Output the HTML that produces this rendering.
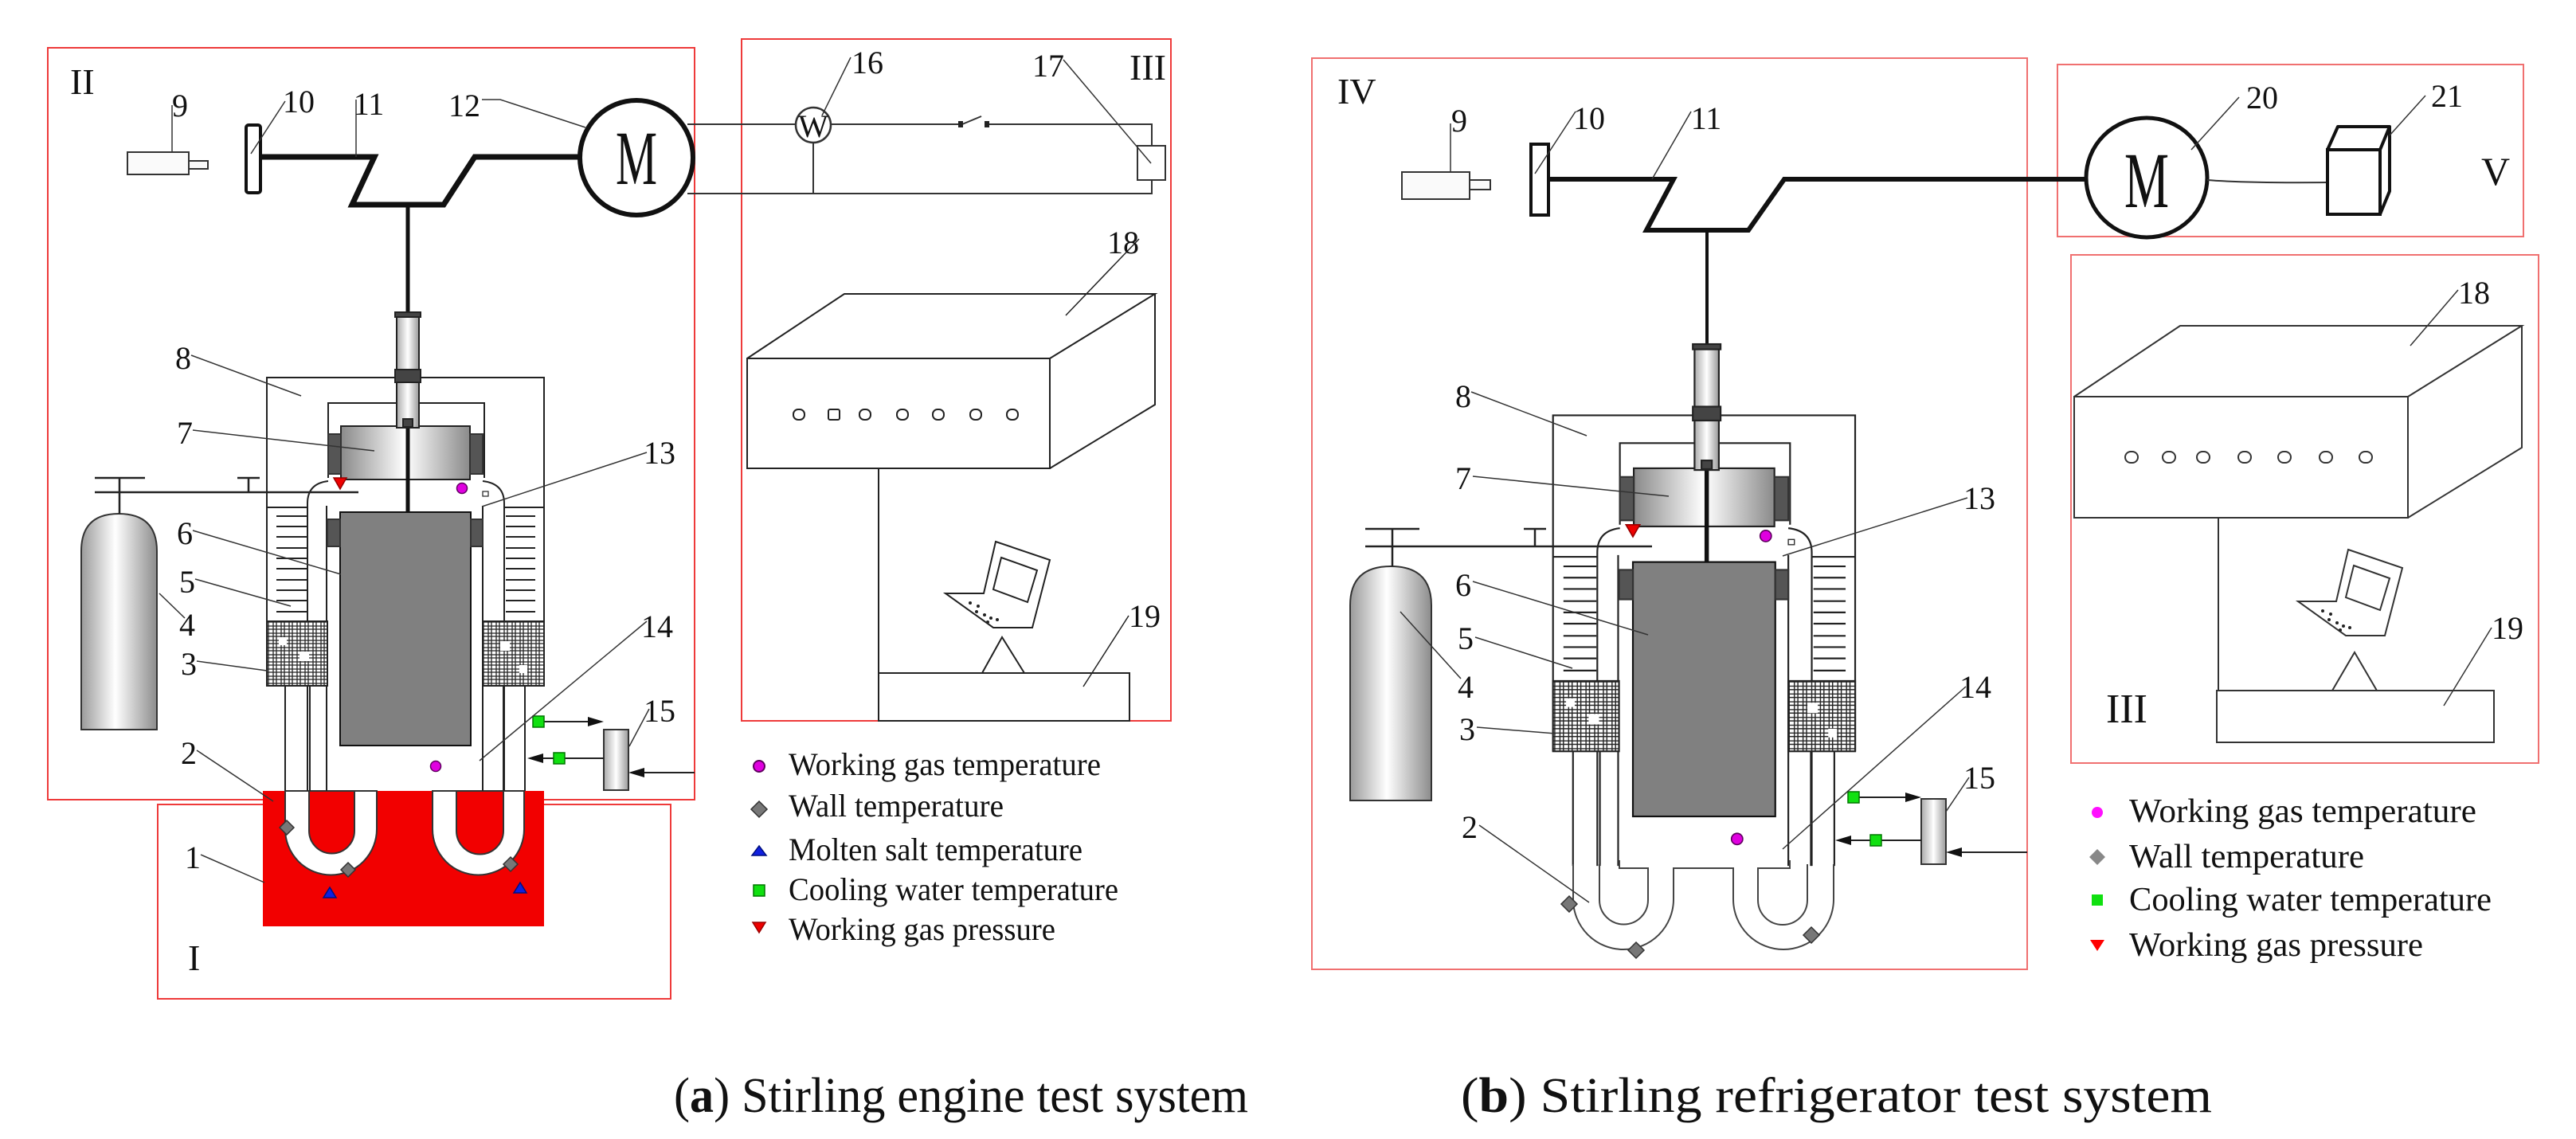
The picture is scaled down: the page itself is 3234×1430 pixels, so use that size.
<!DOCTYPE html>
<html><head><meta charset="utf-8"><style>
html,body{margin:0;padding:0;background:#fff}
svg{display:block;font-family:"Liberation Serif","DejaVu Serif",serif}
text{font-family:"Liberation Serif","DejaVu Serif",serif;fill:#111}
</style></head><body>
<svg width="3234" height="1430" viewBox="0 0 3234 1430" xmlns="http://www.w3.org/2000/svg" font-family="Liberation Serif, serif">
<defs>
<linearGradient id="pg" x1="0" x2="1" y1="0" y2="0">
<stop offset="0" stop-color="#8a8a8a"/><stop offset="0.5" stop-color="#ffffff"/><stop offset="1" stop-color="#8a8a8a"/>
</linearGradient>
<linearGradient id="tg" x1="0" x2="1" y1="0" y2="0">
<stop offset="0" stop-color="#9a9a9a"/><stop offset="0.45" stop-color="#ffffff"/><stop offset="1" stop-color="#8c8c8c"/>
</linearGradient>
<linearGradient id="cg" x1="0" x2="1" y1="0" y2="0">
<stop offset="0" stop-color="#aaa"/><stop offset="0.5" stop-color="#fff"/><stop offset="1" stop-color="#999"/>
</linearGradient>
<pattern id="hatch" width="10" height="9" patternUnits="userSpaceOnUse">
<rect width="10" height="9" fill="#fff"/>
<path d="M3,0V9M7,0V9M0,3H10M0,7H10" stroke="#222" stroke-width="1.3"/>
</pattern>
<g id="eng" fill="none" stroke="#222" stroke-width="2">
  <path d="M335,861 V474 H683 V861"/>
  <path d="M412,600 V506 H608 V600"/>
  <path d="M335,637 H386 M633,637 H683"/>
  <path d="M386,993 V632 Q386,607 412,604"/>
  <path d="M633,993 V632 Q633,607 606,604"/>
  <path d="M410,635 V993 M606,635 V993"/>
  <path d="M347,648H385M347,661H385M347,674H385M347,688H385M347,701H385M347,714H385M347,728H385M347,741H385M347,754H385M347,768H385"/>
  <path d="M635,648H672M635,661H672M635,674H672M635,688H672M635,701H672M635,714H672M635,728H672M635,741H672M635,754H672M635,768H672"/>
  <rect x="335" y="780" width="76" height="81" fill="url(#hatch)"/>
  <rect x="606" y="780" width="77" height="81" fill="url(#hatch)"/>
  <rect x="350" y="800" width="10" height="10" fill="#fff" stroke="none"/>
  <rect x="376" y="818" width="12" height="12" fill="#fff" stroke="none"/>
  <rect x="628" y="805" width="12" height="12" fill="#fff" stroke="none"/>
  <rect x="652" y="835" width="10" height="10" fill="#fff" stroke="none"/>
  <path d="M358,861V993M389,861V993M632,861V993M659,861V993"/>
  <rect x="428" y="535" width="162" height="67" fill="url(#pg)"/>
  <rect x="412" y="545" width="16" height="50" fill="#555" stroke="#333"/>
  <rect x="590" y="545" width="16" height="50" fill="#555" stroke="#333"/>
  <rect x="427" y="643" width="164" height="293" fill="#808080" stroke="#111"/>
  <rect x="411" y="652" width="16" height="34" fill="#555" stroke="#333"/>
  <rect x="591" y="652" width="15" height="34" fill="#555" stroke="#333"/>
  <path d="M512,537V643" stroke="#111" stroke-width="5"/>
  <rect x="498" y="394" width="28" height="143" fill="url(#cg)"/>
  <rect x="496" y="464" width="32" height="16" fill="#444" stroke="#222"/>
  <rect x="496" y="392" width="32" height="6" fill="#444" stroke="#222"/>
  <rect x="506" y="526" width="12" height="10" fill="#444" stroke="#222"/>
  <path d="M419,600 H435 L427,614 Z" fill="#e00" stroke="#900" stroke-width="1.5"/>
  <circle cx="580" cy="613" r="6.5" fill="#e000e0" stroke="#600060" stroke-width="1.5"/>
  <rect x="606" y="617" width="7" height="6" fill="#fff" stroke="#222" stroke-width="1.2"/>
  <circle cx="547" cy="962" r="6.5" fill="#e000e0" stroke="#600060" stroke-width="1.5"/>
</g>
</defs>

<g fill="none" stroke="#ee3a3a" stroke-width="2">
<rect x="60" y="60" width="812" height="944"/>
<rect x="931" y="49" width="539" height="856"/>
<rect x="198" y="1010" width="644" height="244"/>
</g>
<text x="88" y="118" font-size="46">II</text>
<text x="1418" y="100" font-size="46">III</text>
<text x="236" y="1218" font-size="46">I</text>

<g fill="#fafafa" stroke="#333" stroke-width="2">
<rect x="160" y="191" width="77" height="28"/>
<rect x="237" y="202" width="24" height="10"/>
</g>
<path d="M216,132V191" stroke="#333" stroke-width="1.5"/>
<text x="226" y="146" font-size="40" text-anchor="middle">9</text>
<rect x="309" y="157" width="18" height="85" rx="3" fill="#fff" stroke="#111" stroke-width="4"/>
<path d="M358,127 L315,193" stroke="#333" stroke-width="1.5"/>
<text x="375" y="141" font-size="40" text-anchor="middle">10</text>
<path d="M327,197 H470 L442,257 H557 L596,197 H729" fill="none" stroke="#111" stroke-width="7"/>
<path d="M512,257 V394" stroke="#111" stroke-width="5"/>
<path d="M447,125 V197" stroke="#333" stroke-width="1.5"/>
<text x="463" y="144" font-size="40" text-anchor="middle">11</text>
<path d="M605,125 H628 L735,160" fill="none" stroke="#333" stroke-width="1.5"/>
<text x="583" y="146" font-size="40" text-anchor="middle">12</text>
<ellipse cx="799" cy="198" rx="71" ry="72" fill="#fff" stroke="#111" stroke-width="6"/>
<text x="799" y="231" font-size="96" text-anchor="middle" textLength="52" lengthAdjust="spacingAndGlyphs">M</text>
<g fill="none" stroke="#333" stroke-width="2">
<path d="M863,156 H1205 M1239,156 H1446 V183 M1446,226 V243 H863"/>
<path d="M1021,172 V243"/>
<path d="M1208,156 L1232,146"/>
<rect x="1428" y="183" width="35" height="43"/>
</g>
<rect x="1203" y="152" width="6" height="8" fill="#222"/>
<rect x="1236" y="152" width="6" height="8" fill="#222"/>
<circle cx="1021" cy="157" r="22" fill="#fff" stroke="#333" stroke-width="2.5"/>
<text x="1021" y="172" font-size="40" text-anchor="middle">W</text>
<path d="M1068,72 L1032,145" stroke="#333" stroke-width="1.5"/>
<text x="1089" y="92" font-size="40" text-anchor="middle">16</text>
<path d="M1335,75 L1445,205" stroke="#333" stroke-width="1.5"/>
<text x="1316" y="96" font-size="40" text-anchor="middle">17</text>
<g fill="none" stroke="#222" stroke-width="2">
<path d="M938,450 L1060,369 H1450 L1318,450 M1450,369 V508 L1318,588"/>
<rect x="938" y="450" width="380" height="138"/>
<path d="M1103,588 V845"/>
<rect x="1103" y="845" width="315" height="60"/>
<path d="M1233,845 L1258,800 L1286,845"/>
<path d="M1250,680 L1318,703 L1296,788 H1247 L1187,745 H1235 Z M1235,745 L1250,680"/>
<path d="M1257,700 L1302,716 L1290,756 L1247,740 Z"/>
<path d="M1430,300 L1338,396 M1417,773 L1360,862" stroke-width="1.5"/>
</g>
<g fill="#fff" stroke="#222" stroke-width="2">
<rect x="996" y="514" width="14" height="13" rx="6"/>
<rect x="1040" y="514" width="14" height="13" rx="2"/>
<rect x="1079" y="514" width="14" height="13" rx="6"/>
<rect x="1126" y="514" width="14" height="13" rx="6"/>
<rect x="1171" y="514" width="14" height="13" rx="6"/>
<rect x="1218" y="514" width="14" height="13" rx="6"/>
<rect x="1264" y="514" width="14" height="13" rx="6"/>
</g>
<g fill="#222"><circle cx="1218" cy="757" r="2"/><circle cx="1228" cy="761" r="2"/><circle cx="1226" cy="768" r="2"/><circle cx="1236" cy="772" r="2"/><circle cx="1244" cy="776" r="2"/><circle cx="1240" cy="781" r="2"/><circle cx="1252" cy="778" r="2"/></g>
<text x="1410" y="318" font-size="40" text-anchor="middle">18</text>
<text x="1437" y="787" font-size="40" text-anchor="middle">19</text>

<path d="M102,916 V692 Q102,645 149,645 Q197,645 197,692 V916 Z" fill="url(#tg)" stroke="#333" stroke-width="2"/>
<g stroke="#222" stroke-width="2.5" fill="none">
<path d="M119,600 H182 M150,600 V645"/>
<path d="M119,618 H450"/>
<path d="M298,600 H326 M312,600 V618"/>
</g>
<rect x="330" y="993" width="353" height="170" fill="#f20000"/>
<path d="M358,993 V1041 A57.5,57.5 0 0 0 473,1041 V993 Z" fill="#fff" stroke="#333" stroke-width="2"/>
<path d="M388,993 V1043 A28.5,28.5 0 0 0 445,1043 V993 Z" fill="#f20000" stroke="#333" stroke-width="2"/>
<path d="M543,993 V1041 A57.5,57.5 0 0 0 658,1041 V993 Z" fill="#fff" stroke="#333" stroke-width="2"/>
<path d="M573,993 V1043 A29.5,29.5 0 0 0 632,1043 V993 Z" fill="#f20000" stroke="#333" stroke-width="2"/>
<use href="#eng"/>
<g fill="#777" stroke="#333" stroke-width="1.5">
<path d="M360,1030 l9,9 -9,9 -9,-9 Z"/>
<path d="M437,1083 l9,9 -9,9 -9,-9 Z"/>
<path d="M641,1076 l9,9 -9,9 -9,-9 Z"/>
</g>
<g fill="#1020e0" stroke="#001080" stroke-width="1.5">
<path d="M414,1114 l8,13 h-16 Z"/>
<path d="M653,1108 l8,13 h-16 Z"/>
</g>
<rect x="758" y="916" width="31" height="76" fill="url(#cg)" stroke="#333" stroke-width="2"/>
<g stroke="#222" stroke-width="2" fill="none">
<path d="M676,906 H740 M758,952 H680 M872,970 H806"/>
</g>
<path d="M758,906 l-20,-6 v12 Z M662,952 l20,-6 v12 Z M789,970 l20,-6 v12 Z" fill="#111"/>
<rect x="669" y="899" width="14" height="14" fill="#10e010" stroke="#070" stroke-width="1.5"/>
<rect x="695" y="945" width="14" height="14" fill="#10e010" stroke="#070" stroke-width="1.5"/>
<g stroke="#333" stroke-width="1.5" fill="none">
<path d="M240,446 L378,497"/>
<path d="M242,540 L470,566"/>
<path d="M812,568 L605,636"/>
<path d="M242,666 L428,721"/>
<path d="M245,727 L365,761"/>
<path d="M232,776 L200,745"/>
<path d="M247,830 L335,842"/>
<path d="M812,780 L602,955"/>
<path d="M815,890 L790,937"/>
<path d="M247,942 L343,1006"/>
<path d="M252,1073 L332,1108"/>
</g>
<g font-size="40" text-anchor="middle">
<text x="230" y="463">8</text>
<text x="232" y="557">7</text>
<text x="828" y="582">13</text>
<text x="232" y="683">6</text>
<text x="235" y="744">5</text>
<text x="235" y="798">4</text>
<text x="237" y="847">3</text>
<text x="825" y="800">14</text>
<text x="828" y="906">15</text>
<text x="237" y="959">2</text>
<text x="242" y="1090">1</text>
</g>
<circle cx="953" cy="962" r="7" fill="#e000e0" stroke="#600060" stroke-width="2"/>
<path d="M953,1006 l10,10 -10,10 -10,-10 Z" fill="#777" stroke="#333" stroke-width="1.5"/>
<path d="M953,1062 l9,12 h-18 Z" fill="#1020e0" stroke="#001080" stroke-width="1.5"/>
<rect x="946" y="1111" width="14" height="14" fill="#10e010" stroke="#070" stroke-width="1.5"/>
<path d="M945,1158 h16 l-8,13 Z" fill="#e00" stroke="#900" stroke-width="1.5"/>
<g font-size="40">
<text x="990" y="973" textLength="392" lengthAdjust="spacingAndGlyphs">Working gas temperature</text>
<text x="990" y="1025" textLength="270" lengthAdjust="spacingAndGlyphs">Wall temperature</text>
<text x="990" y="1080" textLength="369" lengthAdjust="spacingAndGlyphs">Molten salt temperature</text>
<text x="990" y="1130" textLength="414" lengthAdjust="spacingAndGlyphs">Cooling water temperature</text>
<text x="990" y="1180" textLength="335" lengthAdjust="spacingAndGlyphs">Working gas pressure</text>
</g>

<g fill="none" stroke="#f07070" stroke-width="2">
<rect x="1647" y="73" width="898" height="1144"/>
<rect x="2583" y="81" width="585" height="216"/>
<rect x="2600" y="320" width="587" height="638"/>
</g>
<text x="1679" y="130" font-size="46">IV</text>
<text x="3133" y="232" font-size="50" text-anchor="middle">V</text>
<text x="2670" y="907" font-size="52" text-anchor="middle">III</text>

<g fill="#fafafa" stroke="#333" stroke-width="2">
<rect x="1760" y="216" width="85" height="34"/>
<rect x="1845" y="226" width="26" height="12"/>
</g>
<path d="M1821,155V216" stroke="#333" stroke-width="1.5"/>
<text x="1832" y="165" font-size="40" text-anchor="middle">9</text>
<rect x="1922" y="181" width="22" height="89" fill="#fff" stroke="#111" stroke-width="4"/>
<path d="M1978,140 L1927,218" stroke="#333" stroke-width="1.5"/>
<text x="1995" y="162" font-size="40" text-anchor="middle">10</text>
<path d="M1944,225 H2101 L2067,289 H2195 L2240,225 H2619" fill="none" stroke="#111" stroke-width="6"/>
<path d="M2143,289 V436" stroke="#111" stroke-width="4"/>
<path d="M2123,140 L2074,225" stroke="#333" stroke-width="1.5"/>
<text x="2142" y="162" font-size="40" text-anchor="middle">11</text>
<ellipse cx="2695" cy="223" rx="76" ry="75" fill="#fff" stroke="#111" stroke-width="5"/>
<text x="2695" y="260" font-size="100" text-anchor="middle" textLength="56" lengthAdjust="spacingAndGlyphs">M</text>
<path d="M2771,226 Q2820,230 2922,229" fill="none" stroke="#333" stroke-width="2"/>
<path d="M2922,188 L2935,159 H3000 L2988,188 Z M3000,159 V240 L2988,269" fill="#fff" stroke="#111" stroke-width="4" stroke-linejoin="round"/>
<rect x="2922" y="188" width="66" height="81" fill="#fff" stroke="#111" stroke-width="4"/>
<path d="M2811,122 L2751,188 M3045,120 L3000,170" stroke="#333" stroke-width="1.5"/>
<text x="2840" y="136" font-size="40" text-anchor="middle">20</text>
<text x="3072" y="134" font-size="40" text-anchor="middle">21</text>

<g fill="none" stroke="#333" stroke-width="2">
<path d="M2604,498 L2737,409 H3166 L3023,498 M3166,409 V562 L3023,650"/>
<rect x="2604" y="498" width="419" height="152"/>
<path d="M2785,650 V867"/>
<rect x="2783" y="867" width="348" height="65"/>
<path d="M2928,867 L2956,819 L2984,867"/>
<g transform="translate(1698,10)">
<path d="M1250,680 L1318,703 L1296,788 H1247 L1187,745 H1235 Z M1235,745 L1250,680"/>
<path d="M1257,700 L1302,716 L1290,756 L1247,740 Z"/>
</g>
<path d="M3086,364 L3026,434 M3128,788 L3068,886" stroke-width="1.5"/>
</g>
<g fill="#222" transform="translate(1698,10)"><circle cx="1218" cy="757" r="2"/><circle cx="1228" cy="761" r="2"/><circle cx="1226" cy="768" r="2"/><circle cx="1236" cy="772" r="2"/><circle cx="1244" cy="776" r="2"/><circle cx="1240" cy="781" r="2"/><circle cx="1252" cy="778" r="2"/></g>
<g fill="#fff" stroke="#333" stroke-width="2">
<rect x="2668" y="567" width="16" height="14" rx="7"/>
<rect x="2715" y="567" width="16" height="14" rx="7"/>
<rect x="2758" y="567" width="16" height="14" rx="7"/>
<rect x="2810" y="567" width="16" height="14" rx="7"/>
<rect x="2860" y="567" width="16" height="14" rx="7"/>
<rect x="2912" y="567" width="16" height="14" rx="7"/>
<rect x="2962" y="567" width="16" height="14" rx="7"/>
</g>
<text x="3106" y="381" font-size="40" text-anchor="middle">18</text>
<text x="3148" y="802" font-size="40" text-anchor="middle">19</text>

<path d="M1695,1005 V760 Q1695,711 1746,711 Q1797,711 1797,760 V1005 Z" fill="url(#tg)" stroke="#333" stroke-width="2"/>
<g stroke="#222" stroke-width="2.5" fill="none">
<path d="M1714,664 H1782 M1748,664 V711"/>
<path d="M1714,686 H2074"/>
<path d="M1913,664 H1941 M1927,664 V686"/>
</g>
<use href="#eng" transform="translate(2050,1025) scale(1.09) translate(-427,-936)"/>
<g fill="none" stroke="#444" stroke-width="2">
<path d="M1975,1085 V1129 A63,63 0 0 0 2101,1129 V1090 H2176 V1129 A63,63 0 0 0 2302,1129 V1085"/>
<path d="M2008,1085 V1130 A30.5,30.5 0 0 0 2069,1130 V1090 H2033 V1080"/>
<path d="M2207,1130 A31,31 0 0 0 2269,1130 V1085 M2207,1130 V1090 H2247 V1080"/>
</g>
<g fill="#777" stroke="#333" stroke-width="1.5">
<path d="M1970,1125 l10,10 -10,10 -10,-10 Z"/>
<path d="M2054,1183 l10,10 -10,10 -10,-10 Z"/>
<path d="M2274,1164 l10,10 -10,10 -10,-10 Z"/>
</g>
<rect x="2412" y="1003" width="31" height="82" fill="url(#cg)" stroke="#333" stroke-width="2"/>
<g stroke="#222" stroke-width="2" fill="none">
<path d="M2327,1001 H2394 M2412,1055 H2320 M2545,1070 H2461"/>
</g>
<path d="M2412,1001 l-20,-6 v12 Z M2304,1055 l20,-6 v12 Z M2443,1070 l20,-6 v12 Z" fill="#111"/>
<rect x="2320" y="994" width="14" height="14" fill="#10e010" stroke="#070" stroke-width="1.5"/>
<rect x="2348" y="1048" width="14" height="14" fill="#10e010" stroke="#070" stroke-width="1.5"/>
<g stroke="#333" stroke-width="1.5" fill="none">
<path d="M1847,492 L1992,547"/>
<path d="M1849,598 L2095,623"/>
<path d="M2470,625 L2238,698"/>
<path d="M1849,730 L2069,797"/>
<path d="M1852,800 L1974,839"/>
<path d="M1834,852 L1758,768"/>
<path d="M1854,913 L1953,921"/>
<path d="M2468,862 L2238,1066"/>
<path d="M2472,976 L2443,1019"/>
<path d="M1857,1036 L1995,1133"/>
</g>
<g font-size="40" text-anchor="middle">
<text x="1837" y="511">8</text>
<text x="1837" y="614">7</text>
<text x="2485" y="639">13</text>
<text x="1837" y="748">6</text>
<text x="1840" y="815">5</text>
<text x="1840" y="876">4</text>
<text x="1842" y="929">3</text>
<text x="2480" y="876">14</text>
<text x="2485" y="990">15</text>
<text x="1845" y="1052">2</text>
</g>
<circle cx="2633" cy="1020" r="7" fill="#ff10ff"/>
<path d="M2633,1066 l10,10 -10,10 -10,-10 Z" fill="#888"/>
<rect x="2626" y="1123" width="14" height="14" fill="#10e010"/>
<path d="M2624,1180 h18 l-9,14 Z" fill="#f00"/>
<g font-size="42">
<text x="2673" y="1032" textLength="436" lengthAdjust="spacingAndGlyphs">Working gas temperature</text>
<text x="2673" y="1089" textLength="295" lengthAdjust="spacingAndGlyphs">Wall temperature</text>
<text x="2673" y="1143" textLength="455" lengthAdjust="spacingAndGlyphs">Cooling water temperature</text>
<text x="2673" y="1200" textLength="369" lengthAdjust="spacingAndGlyphs">Working gas pressure</text>
</g>

<text x="846" y="1396" font-size="62" textLength="721" lengthAdjust="spacingAndGlyphs">(<tspan font-weight="bold">a</tspan>) Stirling engine test system</text>
<text x="1834" y="1396" font-size="62" textLength="943" lengthAdjust="spacingAndGlyphs">(<tspan font-weight="bold">b</tspan>) Stirling refrigerator test system</text>
</svg>
</body></html>
